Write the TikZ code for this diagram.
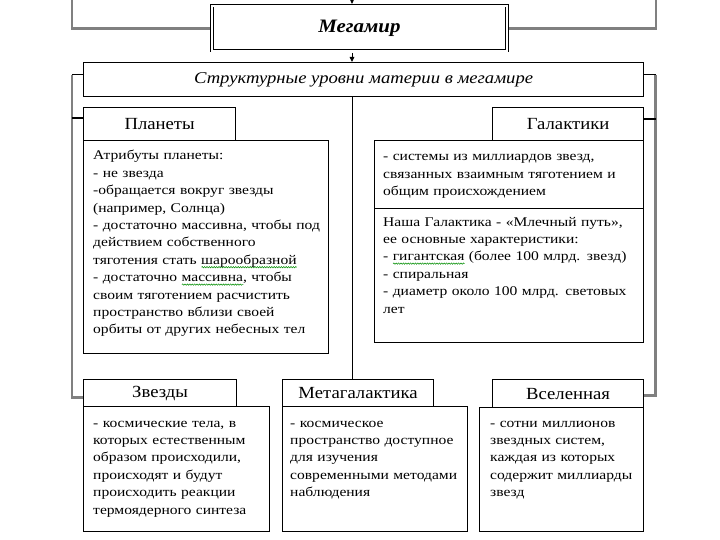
\documentclass[tikz,border=0pt]{standalone}
\usepackage{fontspec}
\setmainfont{Liberation Serif}
\newfontfamily\bodyf[FakeStretch=1.17]{Liberation Serif}
\newfontfamily\hdrf[FakeStretch=1.1]{Liberation Serif}
\newfontfamily\structf[FakeStretch=1.13]{Liberation Serif}
\usetikzlibrary{arrows.meta,backgrounds,decorations.pathmorphing}
\newsavebox\sqbox
\newcommand\squig[1]{\sbox\sqbox{#1}\rlap{\raisebox{-2.8pt}{\tikz[baseline=0pt]\draw[green!55!black,line width=0.5pt,decorate,decoration={snake,amplitude=0.7pt,segment length=2.4pt}] (0pt,0pt) -- (\wd\sqbox,0pt);}}\usebox\sqbox}
\begin{document}
\begin{tikzpicture}[x=1pt,y=-1pt,
  box/.style={draw,line width=1.2pt,inner sep=0pt,anchor=north west},
  hdr/.style={box,font=\hdrf\fontsize{17}{20}\selectfont},
  txt/.style={inner sep=0pt,anchor=base west,align=left,font=\bodyf\fontsize{13.3}{17.4}\selectfont},
  gline/.style={draw=black!50,line width=2.5pt},
  thinline/.style={draw=black,line width=1pt},
  arr/.style={-{Triangle[length=5pt,width=4.5pt]},line width=0.9pt},
]
\useasboundingbox (0,0) rectangle (720,540);

% boxes
\node[box,double,double distance=1.6pt,line width=0.8pt,minimum width=295pt,minimum height=45pt,
      font=\hdrf\bfseries\itshape\fontsize{19}{22}\selectfont] (mega) at (211.5,5.5) {Мегамир};
\node[box,minimum width=560pt,minimum height=34pt,font=\structf\itshape\fontsize{16.5}{19}\selectfont] (struct) at (83,62)
  {Структурные уровни материи в мегамире};

\node[hdr,minimum width=152pt,minimum height=33pt] (planH) at (83,107) {Планеты};
\node[box,minimum width=245pt,minimum height=213pt] (planB) at (83,140) {};
\node[hdr,minimum width=151pt,minimum height=33pt] (galH) at (492,107) {Галактики};
\node[box,minimum width=269pt,minimum height=68pt] (galB1) at (374,140) {};
\node[box,minimum width=269pt,minimum height=134pt] (galB2) at (374,208) {};

\node[hdr,minimum width=153pt,minimum height=27pt] (starH) at (83,379) {Звезды};
\node[box,minimum width=186pt,minimum height=125pt] (starB) at (83,406) {};
\node[hdr,minimum width=151pt,minimum height=27pt] (metaH) at (282,379) {Метагалактика};
\node[box,minimum width=185pt,minimum height=125pt] (metaB) at (282,406) {};
\node[hdr,minimum width=151pt,minimum height=28pt] (uniH) at (492,379) {Вселенная};
\node[box,minimum width=164pt,minimum height=124pt] (uniB) at (479,407) {};

% texts
\node[txt,text width=300pt] (planT) at (93,160) {Атрибуты планеты:\\
- не звезда\\
-обращается вокруг звезды\\
(например, Солнца)\\
- достаточно массивна, чтобы под\\
действием собственного\\
тяготения стать \squig{шарообразной}\\
- достаточно \squig{массивна}, чтобы\\
своим тяготением расчистить\\
пространство вблизи своей\\
орбиты от других небесных тел};

\node[txt,text width=300pt] (galT1) at (383,161) {- системы из миллиардов звезд,\\
связанных взаимным тяготением и\\
общим происхождением};

\node[txt,text width=300pt] (galT2) at (383,226) {Наша Галактика - «Млечный путь»,\\
ее основные характеристики:\\
- \squig{гигантская} (более 100 млрд. звезд)\\
- спиральная\\
- диаметр около 100 млрд. световых\\
лет};

\node[txt,text width=220pt] (starT) at (93,427) {- космические тела, в\\
которых естественным\\
образом происходили,\\
происходят и будут\\
происходить реакции\\
термоядерного синтеза};

\node[txt,text width=220pt] (metaT) at (290,427) {- космическое\\
пространство доступное\\
для изучения\\
современными методами\\
наблюдения};

\node[txt,text width=200pt] (uniT) at (490,427) {- сотни миллионов\\
звездных систем,\\
каждая из которых\\
содержит миллиарды\\
звезд};

% connectors
\coordinate (topin) at (352,0);
\coordinate (tl) at (72,0);
\coordinate (tr) at (656,0);
\begin{scope}[on background layer]
  \draw[gline] (tl) |- (mega.west);
  \draw[gline] (tr) |- (mega.east);
  \draw[gline] ([yshift=5pt,xshift=-11pt]struct.west) |- ([yshift=-4.5pt]starH.west);
  \draw[gline] ([yshift=5pt,xshift=11.5pt]struct.east) |- ([yshift=-2pt]uniH.east);
\end{scope}
\draw[thinline] ([yshift=5pt]struct.west) -- ++(-11,0);
\draw[thinline] ([yshift=5pt]struct.east) -- ++(11.5,0);
\draw[line width=2pt] ([yshift=6.5pt]planH.west) -- ++(-11,0);
\draw[line width=2pt] ([yshift=5.5pt]galH.east) -- ++(11.5,0);
\draw[arr] (topin) -- ([yshift=1.6pt]topin |- mega.north);
\draw[arr] ([yshift=-1.6pt]topin |- mega.south) -- (topin |- struct.north);
\draw[thinline] (topin |- struct.south) -- (topin |- metaH.north);
\end{tikzpicture}
\end{document}
